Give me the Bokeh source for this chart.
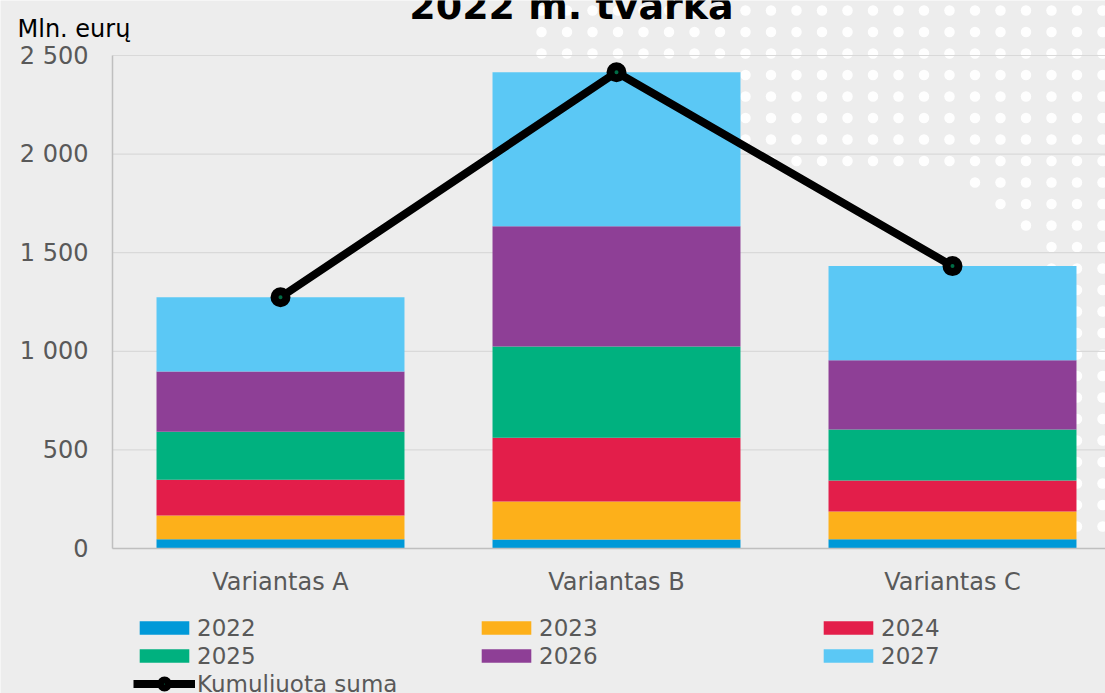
import numpy as np
from bokeh.plotting import figure
from bokeh.models import Range1d, FixedTicker, Label, Legend, LegendItem, ColumnDataSource
from bokeh.embed import file_html
from bokeh.resources import INLINE

# ---- data ----
categories = ["Variantas A", "Variantas B", "Variantas C"]
years = ["2022", "2023", "2024", "2025", "2026", "2027"]
v2022 = [47, 46, 47]
v2023 = [120, 192, 141]
v2024 = [181, 323, 157]
v2025 = [244, 463, 258]
v2026 = [306, 610, 352]
v2027 = [376, 781, 477]
line_label = "Kumuliuota suma"
y_ticks = [0, 500, 1000, 1500, 2000, 2500]
y_tick_labels = ["0", "500", "1 000", "1 500", "2 000", "2 500"]
title_text = "2022 m. tvarka"
unit_text = "Mln. eurų"

colors = ["#0099D8", "#FDB01A", "#E31E4A", "#00B17F", "#8E3F96", "#5BC8F5"]
BG = "#EDEDED"
FONT = "DejaVu Sans"

series = [v2022, v2023, v2024, v2025, v2026, v2027]
xs = list(range(len(categories)))
cumulative = [sum(v[i] for v in series) for i in xs]

data = {"x": xs}
for y, v in zip(years, series):
    data[y] = v
source = ColumnDataSource(data)

# pixel <-> data mapping (frame covers whole canvas)
W, H = 1105, 693
AX_X, PX_PER_CAT = 112, 336.0
AX_Y, PX_PER_UNIT = 548, 0.1972
x0 = -0.5 - AX_X / PX_PER_CAT
x1 = -0.5 + (W - AX_X) / PX_PER_CAT
y0 = -(H - AX_Y) / PX_PER_UNIT
y1 = AX_Y / PX_PER_UNIT

def dx(px):
    return -0.5 + (px - AX_X) / PX_PER_CAT

def dy(py):
    return (AX_Y - py) / PX_PER_UNIT

p = figure(width=W, height=H,
           x_range=Range1d(x0, x1), y_range=Range1d(y0, y1),
           output_backend="svg", toolbar_location=None,
           min_border=0, min_border_left=0, min_border_right=0,
           min_border_top=0, min_border_bottom=0,
           background_fill_color=BG, border_fill_color=BG, outline_line_color=None)

# decorative dot pattern (background texture)
dpx, dpy = [], []
for j in range(26):
    py = 10 + 21.5 * j
    if py > 540:
        break
    if py <= 60:
        left = 530
    elif py <= 150:
        left = 740
    elif py <= 165:
        left = 770
    elif py <= 260:
        left = 973 + (py - 182) * 1.0
    else:
        left = 1045
    for px in np.arange(541 - 25.5, 1115, 25.5):
        if px >= left:
            dpx.append(dx(px))
            dpy.append(dy(py))
p.scatter(dpx, dpy, size=10.5, marker="circle", fill_color="#FFFFFF", fill_alpha=0.95,
          line_color=None, level="image")

# gridlines from the y axis to the right edge
p.segment(x0=[-0.5] * len(y_ticks), y0=y_ticks, x1=[x1] * len(y_ticks), y1=y_ticks,
          line_color="#D9D9D9", line_width=1.2, level="underlay")

bars = p.vbar_stack(years, x="x", width=0.738, source=source,
                    fill_color=colors, line_color=None)
ln = p.line(xs, cumulative, line_width=8, line_color="black")
sc = p.scatter(xs, cumulative, size=12, fill_color="#006B45", line_color="black", line_width=8)

# axes (fixed inside the full-canvas frame)
p.xgrid.visible = False
p.ygrid.visible = False
p.yaxis.fixed_location = -0.5
p.xaxis.fixed_location = 0
p.yaxis.ticker = FixedTicker(ticks=y_ticks)
p.yaxis.major_label_overrides = dict(zip(y_ticks, y_tick_labels))
p.yaxis.bounds = (0, 2500)
p.xaxis.ticker = FixedTicker(ticks=xs)
p.xaxis.major_label_overrides = dict(zip(xs, categories))
p.xaxis.bounds = (-0.5, x1)
for ax in (p.xaxis, p.yaxis):
    ax.axis_line_color = "#BFBFBF"
    ax.axis_line_width = 1.5
    ax.major_tick_line_color = None
    ax.minor_tick_line_color = None
    ax.major_tick_out = 0
    ax.major_tick_in = 0
    ax.minor_tick_out = 0
    ax.minor_tick_in = 0
    ax.major_label_text_font = FONT
    ax.major_label_text_font_size = "24px"
    ax.major_label_text_color = "#595959"
p.yaxis.major_label_standoff = 24
p.xaxis.major_label_standoff = 19

# texts
p.add_layout(Label(x=dx(571), y=dy(5), text=title_text, text_align="center",
                   text_baseline="alphabetic", text_font=FONT, text_font_size="38px",
                   text_font_style="bold", text_color="black"))
p.add_layout(Label(x=dx(17), y=dy(28), text=unit_text, text_align="left",
                   text_baseline="alphabetic", text_font=FONT, text_font_size="24px",
                   text_color="black"))

# legend
items = [LegendItem(label=y, renderers=[r]) for y, r in zip(years, bars)]
items.append(LegendItem(label=line_label, renderers=[ln, sc]))
legend = Legend(items=items, location=(133, -4), orientation="horizontal", ncols=3,
                padding=0, margin=0, spacing=1,
                glyph_width=62, glyph_height=17, label_standoff=2,
                label_width=277, label_height=27,
                label_text_font=FONT, label_text_font_size="23px", label_text_color="#595959",
                border_line_color=None, background_fill_alpha=0)
p.add_layout(legend, "center")

open("out.html", "w").write(file_html(p, INLINE))
